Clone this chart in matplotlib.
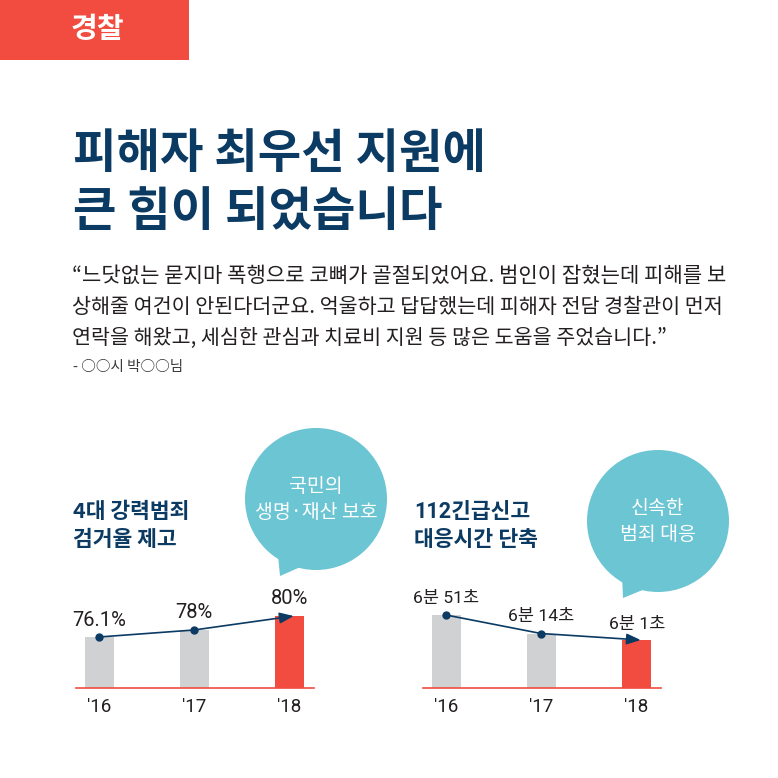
import matplotlib
matplotlib.use("Agg")
import matplotlib.pyplot as plt
from matplotlib.patches import Circle, Polygon, Rectangle

KR = ['Noto Sans CJK KR', 'DejaVu Sans']
NUM = ['Roboto', 'Noto Sans CJK KR']
plt.rcParams['font.family'] = KR

NAVY = '#0b3a63'
RED = '#f24c40'
GREY = '#d0d1d3'
TEAL = '#6bc5d3'
INK = '#231f20'

badge = '경찰'
title_lines = ['피해자 최우선 지원에', '큰 힘이 되었습니다']
quote_lines = ['“느닷없는 묻지마 폭행으로 코뼈가 골절되었어요. 범인이 잡혔는데 피해를 보',
               '상해줄 여건이 안된다더군요. 억울하고 답답했는데 피해자 전담 경찰관이 먼저',
               '연락을 해왔고, 세심한 관심과 치료비 지원 등 많은 도움을 주었습니다.”']
quote_sizes = [15.15, 14.9, 14.85]
quote_source = '- ○○시 박○○님'

years = ["'16", "'17", "'18"]
left_title = ['4대 강력범죄', '검거율 제고']
left_labels = ['76.1%', '78%', '80%']
left_heights = [51, 58, 72]          # visual bar heights
left_bubble = ['국민의', '생명·재산 보호']

right_title = ['112긴급신고', '대응시간 단축']
right_labels = ['6분 51초', '6분 14초', '6분 1초']
right_seconds = [411, 374, 361]
right_bubble = ['신속한', '범죄 대응']

W = H = 778
fig = plt.figure(figsize=(W / 100, H / 100), dpi=100, facecolor='white')
bg = fig.add_axes([0, 0, 1, 1])
bg.set_xlim(0, W)
bg.set_ylim(H, 0)
bg.axis('off')

bg.add_patch(Rectangle((0, 0), 189, 60, color=RED, lw=0))
bg.text(97, 29, badge, color='white', fontsize=21, fontweight='bold', ha='center', va='center')

for y, line in zip((154, 212), title_lines):
    bg.text(73, y, line, color=NAVY, fontsize=34, fontweight='bold', ha='left', va='center')

for y, line, size in zip((276, 307, 338), quote_lines, quote_sizes):
    bg.text(72, y, line, color=INK, fontsize=size, ha='left', va='center')
bg.text(73, 367, quote_source, color='#3a3a3a', fontsize=10.5, ha='left', va='center')

for y, line in zip((512, 540), left_title):
    bg.text(73, y, line, color=NAVY, fontsize=15.5, fontweight='bold', ha='left', va='center')
for y, line in zip((512, 540), right_title):
    bg.text(414, y, line, color=NAVY, fontsize=15.5, fontweight='bold', ha='left', va='center',
            fontfamily=NUM)

def bubble(cx, cy, r, tail, lines, ys):
    bg.add_patch(Circle((cx, cy), r, color=TEAL, lw=0))
    bg.add_patch(Polygon(tail, closed=True, color=TEAL, lw=0))
    for y, line in zip(ys, lines):
        bg.text(cx, y, line, color='white', fontsize=14, fontweight='medium', ha='center', va='center')

bubble(316, 499, 71, [(278, 555), (280, 576), (305, 565)], left_bubble, (486, 512))
bubble(658, 521, 71, [(622, 575), (623, 598), (650, 587)], right_bubble, (508, 534))

def panel(x0, x1, y_top, xs_px, values, ylim, labels, label_xy, label_size):
    ax = fig.add_axes([x0 / W, 1 - 688 / H, (x1 - x0) / W, (688 - y_top) / H])
    step = (xs_px[2] - xs_px[0]) / 2
    ax.set_xlim((x0 - xs_px[0]) / step, 2 + (x1 - xs_px[2]) / step)
    ax.set_ylim(*ylim)
    ax.patch.set_alpha(0)
    for s in ('top', 'left', 'right'):
        ax.spines[s].set_visible(False)
    ax.spines['bottom'].set_color(RED)
    ax.spines['bottom'].set_linewidth(1.2)
    xs = list(range(len(values)))
    ax.bar(xs, values, width=29 / step, color=[GREY, GREY, RED], zorder=2)
    ax.set_yticks([])
    ax.set_xticks(xs, years, fontfamily=NUM, fontsize=13.5, color=INK)
    ax.tick_params(axis='x', length=0, pad=7)
    ax.plot(xs[:2], values[:2], color=NAVY, lw=1.2, zorder=3)
    ax.annotate('', xy=(2.05, values[2]), xytext=(1, values[1]), zorder=4,
                arrowprops=dict(arrowstyle='-|>,head_length=0.85,head_width=0.33', color=NAVY, lw=1.2,
                                shrinkA=0, shrinkB=0))
    ax.plot(xs[:2], values[:2], 'o', color=NAVY, ms=5, zorder=5)
    for label, (lx, ly) in zip(labels, label_xy):
        bg.text(lx, ly, label, color=INK, fontsize=label_size, fontfamily=NUM, ha='center', va='center')

panel(76, 314, 588, (99, 193.5, 289), left_heights, (0, 100), left_labels,
      [(99, 620), (194, 613), (290, 598)], 14.5)
panel(423, 661, 588, (446, 540, 636), right_seconds, (265, 265 + 100 / 0.5), right_labels,
      [(446, 598), (541, 617), (637, 624)], 12.6)

fig.savefig('out.png', dpi=100)
